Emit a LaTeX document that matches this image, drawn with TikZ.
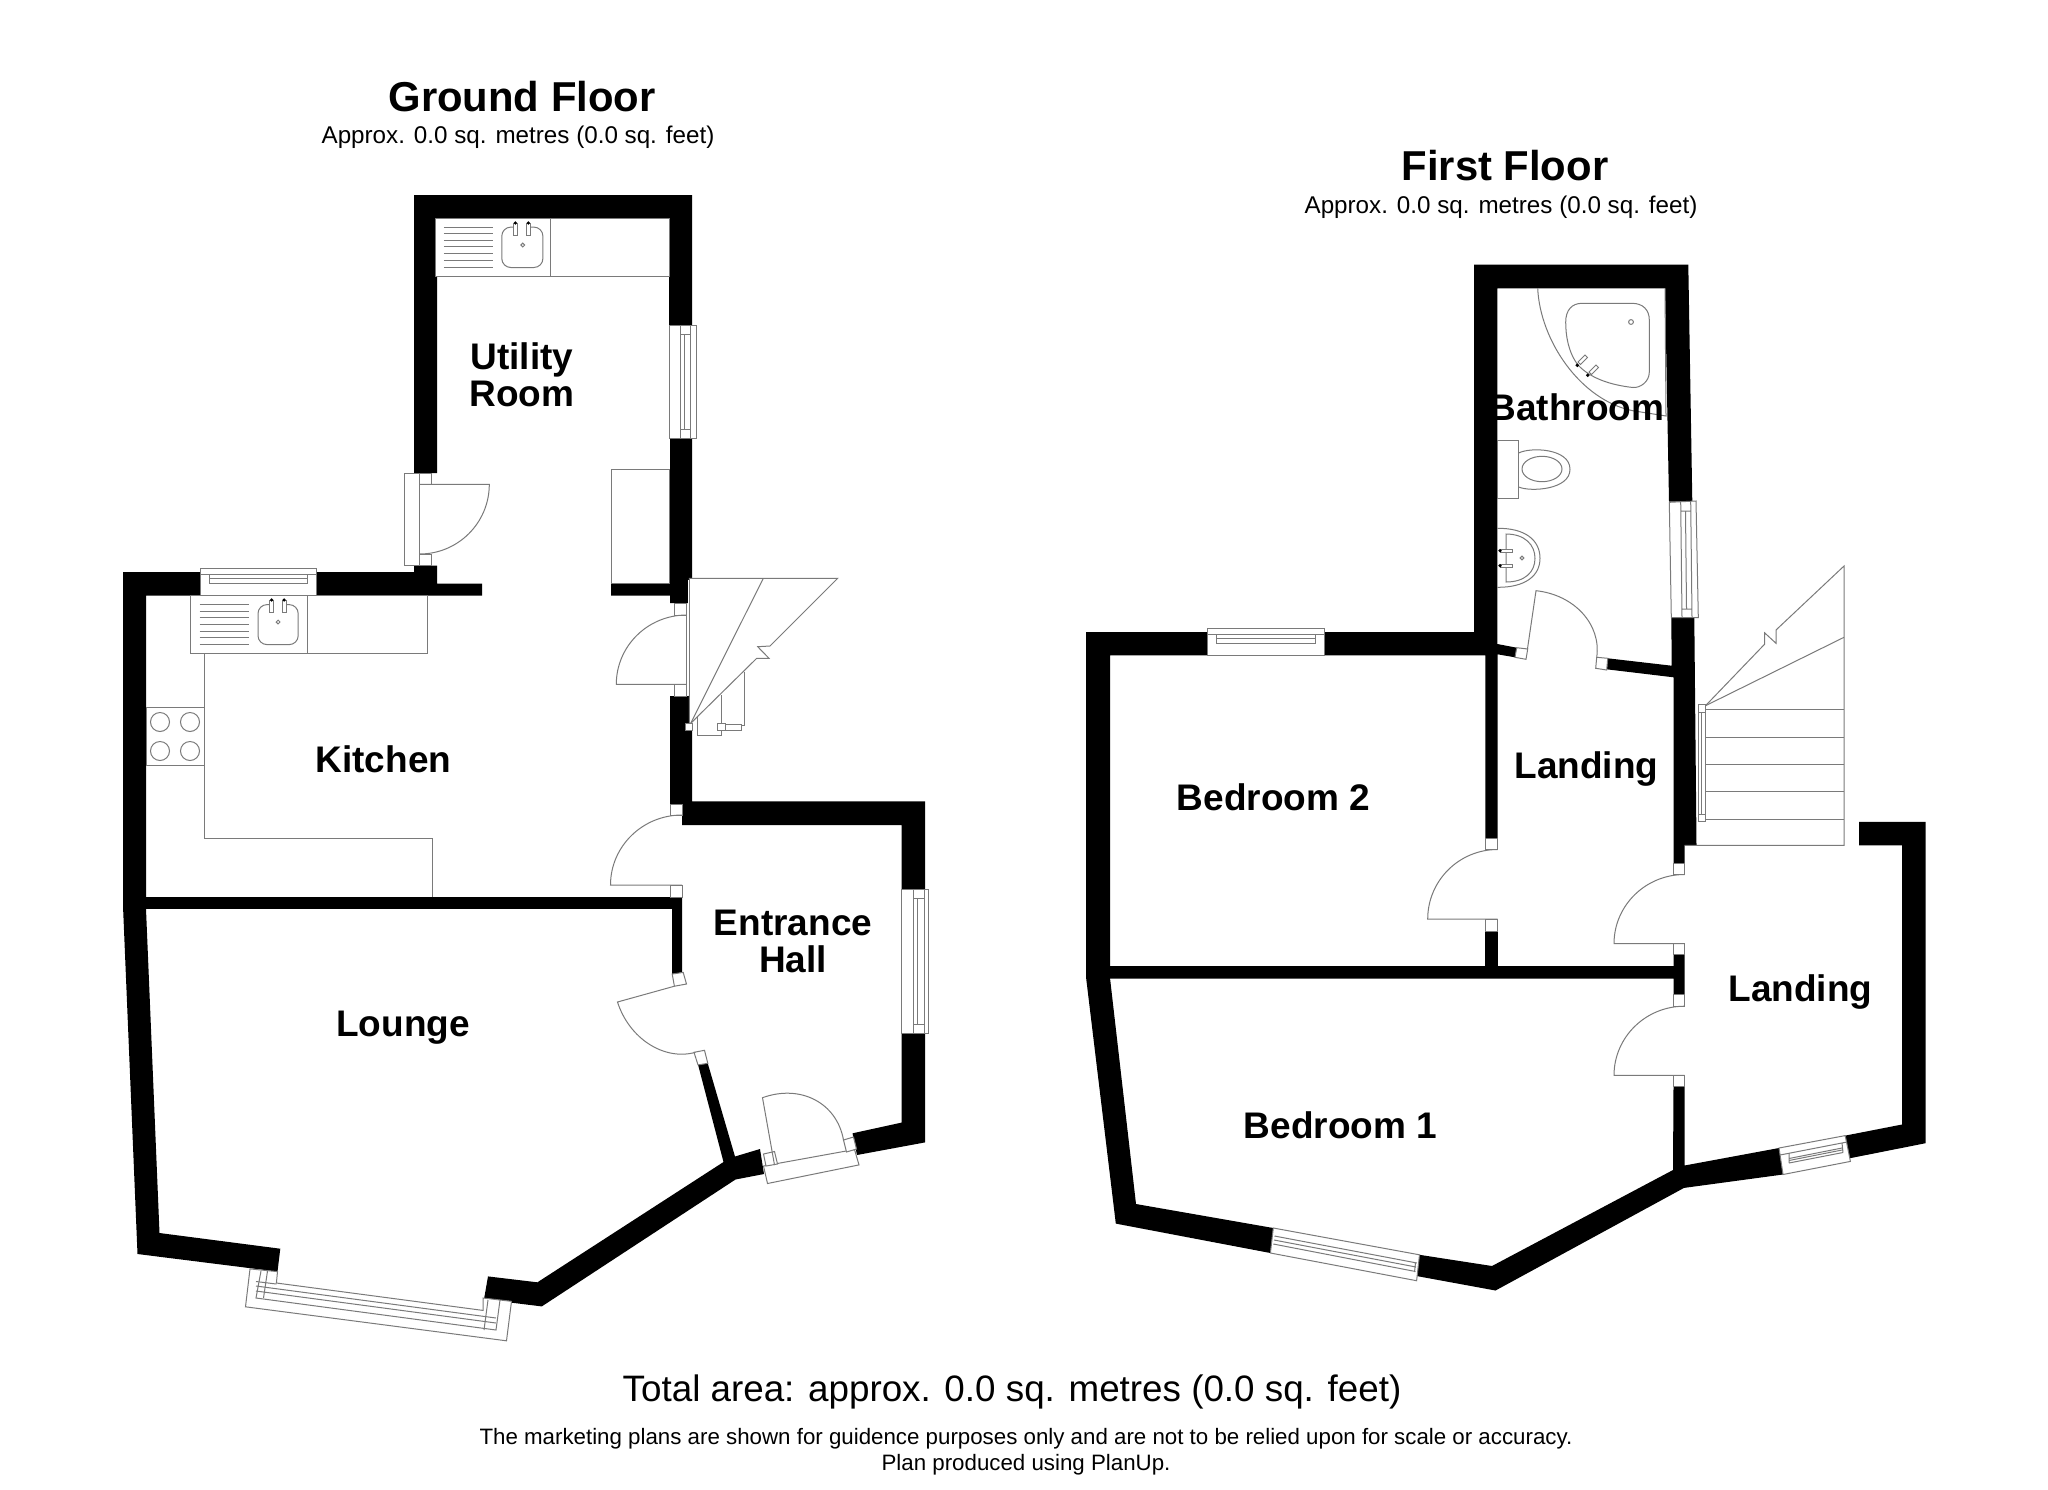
\documentclass[tikz,border=0pt]{standalone}
\usepackage{fontspec}
\setmainfont{Liberation Sans}
\usetikzlibrary{calc}
\tikzset{
  wall/.style={fill=black,draw=none},
  fix/.style={draw=black!52,line width=1pt,fill=none,line join=miter},
  box/.style={draw=black!52,line width=1pt,fill=white},
  room/.style={font=\fontsize{37}{37.5}\selectfont\bfseries,align=center,inner sep=0pt},
  title/.style={font=\fontsize{41.8}{42}\selectfont\bfseries,inner sep=0pt},
  sub/.style={font=\fontsize{24.2}{25}\selectfont,inner sep=0pt},
  total/.style={font=\fontsize{36.8}{37}\selectfont,inner sep=0pt},
  note/.style={font=\fontsize{22.3}{23}\selectfont,inner sep=0pt},
}
\newcommand{\doorleaf}[3]{\draw[fix] (#1) -- (#2) .. controls ($(#2)+0.5523*(#3)-0.5523*(#1)$) and ($(#3)+0.5523*(#2)-0.5523*(#1)$) .. (#3);}
\begin{document}
\begin{tikzpicture}[x=1pt,y=-1pt]
\path[use as bounding box,fill=white] (0,0) rectangle (2048,1489);

%% ---------- Ground floor walls
\fill[wall] (414,195)--(692,195)--(692,326)--(669,326)--(669,218.2)--(437,218.2)--(437,473)--(414,473)--cycle;
\fill[wall] (670,438)--(692,438)--(692,603)--(670,603)--(670,595.7)--(611,595.7)--(611,583.6)--(670,583.6)--cycle;
\fill[wall] (123,572)--(200.4,572)--(200.4,595.7)--(146,595.7)--(146,908.8)--(159.5,1233)--(280.3,1248.7)--(277.5,1271.6)--(137.5,1254)--(123,906)--cycle;
\fill[wall] (316.5,572)--(414,572)--(414,565.7)--(437,565.7)--(437,583.6)--(482,583.6)--(482,595.7)--(316.5,595.7)--cycle;
\fill[wall] (670,696)--(692,696)--(692,801.3)--(925,801.3)--(925,889.4)--(901.5,889.4)--(901.5,825)--(682,825)--(682,804)--(670,804)--cycle;
\fill[wall] (146,897)--(682,897)--(682,972.4)--(672,974)--(672,908.8)--(146,908.8)--cycle;
\fill[wall] (901.5,1033.3)--(925,1033.3)--(925,1142.4)--(857,1155)--(852.5,1133.3)--(901.5,1122.6)--cycle;
\fill[wall] (698,1064.5)--(707.5,1062.5)--(735,1156.5)--(760,1149)--(764,1174)--(735.5,1179.5)--(541.8,1306.4)--(484,1299.3)--(488,1276.4)--(537.4,1282.3)--(723.5,1162)--cycle;

%% Ground floor windows
\draw[box] (669,325.7) rectangle (696,438);
\draw[fix] (680.4,325.7)--(680.4,438) (690.2,325.7)--(690.2,438) (680.4,334)--(690.2,334) (680.4,429)--(690.2,429) (684.4,334)--(684.4,429);
\draw[box] (200.4,568.2) rectangle (316.5,595.7);
\draw[fix] (200.4,574.3)--(316.5,574.3) (209.4,574.3)--(209.4,583.6) (307.6,574.3)--(307.6,583.6) (209.4,583.6)--(307.6,583.6) (209.4,578.5)--(307.6,578.5);
\draw[box] (901.5,889.4) rectangle (928.5,1033.3);
\draw[fix] (913,889.4)--(913,1033.3) (924,889.4)--(924,1033.3) (913,898)--(924,898) (913,1024)--(924,1024) (917.5,898)--(917.5,1024);
% bay window
\draw[box] (250,1268.9)--(245.5,1306.8)--(506.5,1340.8)--(511.5,1301.3)--(483,1298)--(483,1310.4)--(276.4,1283)--(277.5,1271.6)--cycle;
\draw[fix] (261,1271)--(256,1298)--(496,1330)--(500,1300);
\draw[fix] (256,1291)--(496,1323) (256,1286)--(496,1318) (256,1281.5)--(276.4,1284);
\draw[fix] (267.5,1271)--(263.5,1298) (488,1300)--(484,1330);

%% Ground floor doors
\draw[box] (404,473) rectangle (419.6,565.7);
\draw[box] (419.6,473) rectangle (431.3,484.3);
\draw[box] (419.6,554) rectangle (431.3,565.7);
\doorleaf{419.6,484.3}{489.3,484.3}{419.6,554}
\draw[box] (674.7,603.3) rectangle (686.7,615);
\draw[box] (674.7,684.3) rectangle (686.7,696);
\doorleaf{686.7,684.3}{616.3,684.3}{686.7,615}
\draw[fix] (686.7,615)--(686.7,684.3);
\draw[box] (670,804) rectangle (682,815);
\draw[box] (670,885) rectangle (682,897);
\doorleaf{682,885}{610.5,885}{682,815}
\draw[box] (672.2,974)--(683.2,972.4)--(686.5,984)--(674.4,986.2)--cycle;
\draw[box] (694,1052.3)--(704.5,1050.3)--(707.8,1063.3)--(698,1064.9)--cycle;
\doorleaf{674.4,986.2}{617.5,1002}{695.5,1052.3}
\draw[box] (763.5,1166)--(767.5,1183.5)--(859,1164.9)--(854.5,1149.5)--cycle;
\draw[box] (763.5,1154)--(774.5,1151.5)--(777.5,1164)--(766,1166)--cycle;
\draw[box] (843.5,1140)--(853.5,1137)--(856.5,1149)--(846.5,1152)--cycle;
\doorleaf{774.5,1165}{762.5,1097.7}{843.5,1140}

%% Ground floor units
\draw[box] (435.3,218.2) rectangle (669,276.4);
\draw[fix] (550.9,218.2)--(550.9,276.4);
\foreach \yy in {227.1,233.9,240.4,246.8,253.2,260,267.1} \draw[fix] (443.8,\yy)--(493.3,\yy);
\draw[fix,rounded corners=9pt] (501.8,227.1) rectangle (542.9,267.5);
\fill[white] (513,224) rectangle (531,228);
\draw[box] (513.4,223) rectangle (517.4,235.7);
\draw[box] (526.3,223) rectangle (530.4,235.7);
\fill (515.4,223) circle (1.8);
\fill (528.3,223) circle (1.8);
\draw[fix] (522.8,245) circle (1.9);
\draw[fix] (611,469.3) rectangle (669,583.6);

\draw[box] (190.6,595.7) rectangle (427.2,653.6);
\draw[fix] (307.1,595.7)--(307.1,653.6);
\foreach \yy in {604.3,611,617.5,624.6,631,637.5,644.6} \draw[fix] (199.6,\yy)--(249.1,\yy);
\draw[fix,rounded corners=9pt] (258,604.6) rectangle (298.2,644.6);
\fill[white] (269,602) rectangle (287,606);
\draw[box] (269.6,600) rectangle (273.7,612.9);
\draw[box] (282.1,600) rectangle (286.2,612.9);
\fill (271.6,600) circle (1.8);
\fill (284.1,600) circle (1.8);
\draw[fix] (278.1,622) circle (1.9);
\draw[fix] (146,707) rectangle (204.7,765.7);
\draw[fix] (204.7,653.6)--(204.7,838.8)--(432,838.8)--(432,897);
\draw[fix] (160,722) circle (9.5);
\draw[fix] (190,722) circle (9.5);
\draw[fix] (160,751) circle (9.5);
\draw[fix] (190,751) circle (9.5);

%% Ground floor stair
\draw[box] (689.3,603.3)--(689.3,578.3)--(837.7,578.3)--(770,646)--(757.7,646.7)--(769,658.3)--(756.7,658.3)--(690.7,723.3)--(689.3,723.3)--cycle;
\fill[white] (687.5,580) rectangle (691,695);
\draw[fix] (689.3,578.3)--(689.3,696);
\draw[fix] (763.3,578.3)--(690.7,723.3);
\draw[fix] (744.7,671.7)--(744.7,725.7)--(741.7,725.7);
\draw[fix] (721.3,695)--(721.3,735)--(697.7,735)--(697.7,716);
\draw[box] (725.3,724.5) rectangle (741.7,730);
\draw[box] (717.3,723) rectangle (725.3,730.7);
\draw[box] (685.3,723.3) rectangle (692.7,730.7);

%% ---------- First floor walls
\fill[wall] (1474,264.7)--(1688.3,264.7)--(1692.3,501.7)--(1669,501.7)--(1665,288.3)--(1497.3,288.3)--(1497.3,644)--(1516.7,647.7)--(1515,657.3)--(1497.5,654.3)--(1497.5,838)--(1485.4,838)--(1485.4,655.3)--(1325.2,655.3)--(1325.2,632)--(1474,632)--cycle;
\fill[wall] (1086,632)--(1208,632)--(1208,655.3)--(1110,655.3)--(1110,978)--(1136,1204)--(1273.3,1228)--(1270.4,1253)--(1115.8,1223.6)--(1086,977)--cycle;
\fill[wall] (1110,966)--(1673.5,966)--(1673.5,954.8)--(1684.5,954.8)--(1684.5,994)--(1673.5,994)--(1673.5,978.5)--(1110,978.5)--cycle;
\fill[wall] (1485.4,931.2)--(1497.5,931.2)--(1497.5,970)--(1485.4,970)--cycle;
\fill[wall] (1671.3,617.7)--(1694.3,617.7)--(1696.5,845.4)--(1684.5,845.4)--(1684.5,863.3)--(1673.5,863.3)--(1673.5,677.3)--(1606.7,669.3)--(1607.7,658.3)--(1671.7,665.7)--cycle;
\fill[wall] (1673.5,1086.5)--(1684.5,1086.5)--(1684.5,1165.5)--(1779,1148)--(1783,1174.5)--(1684,1187.9)--(1495.5,1290.5)--(1416.5,1276)--(1419.5,1254.8)--(1492,1266)--(1673,1170)--cycle;
\fill[wall] (1845.2,1135.6)--(1902,1124.5)--(1902,845.4)--(1859,845.4)--(1859,821.8)--(1925.6,821.8)--(1925.6,1143.2)--(1849,1158.4)--cycle;

%% First floor windows
\draw[box] (1669.3,502.3)--(1671.3,617.7)--(1698.3,617.7)--(1696,501)--cycle;
\draw[fix] (1680.7,502)--(1682,617.7) (1690.7,502)--(1692,617.7) (1680.7,511)--(1691,511) (1682,609)--(1692,609) (1685.5,511)--(1686.5,609);
\draw[box] (1207,628) rectangle (1324.2,655.3);
\draw[fix] (1207,634.3)--(1324.2,634.3) (1216.3,634.3)--(1216.3,643.2)--(1315.6,643.2)--(1315.6,634.3) (1216.3,638.5)--(1315.6,638.5);
\draw[box] (1273.3,1228)--(1419.5,1254.8)--(1416.6,1280.7)--(1270.4,1253)--cycle;
\draw[fix] (1274.5,1236)--(1417,1263) (1273.3,1244)--(1415.5,1271.5) (1274,1240)--(1416,1267) (1415.5,1263)--(1414.5,1272);
\draw[box] (1779,1148)--(1845.2,1135.6)--(1850.4,1161.4)--(1783,1174.5)--cycle;
\draw[fix] (1780,1155)--(1847,1142) (1789,1163)--(1843,1152.5) (1789,1158.5)--(1842,1148) (1789,1153.5)--(1789,1163) (1842,1143)--(1843,1152.5) (1789,1160.5)--(1842,1150);

%% First floor doors
\draw[box] (1516.7,647.7)--(1527.7,649)--(1526,659.3)--(1515,657.3)--cycle;
\doorleaf{1527.3,650}{1536,590.7}{1596.7,657.3}
\draw[box] (1596.7,657.3)--(1607.7,658.3)--(1606.7,670)--(1595.7,668.3)--cycle;
\draw[box] (1485.4,838) rectangle (1497.5,849.5);
\draw[box] (1485.4,919.1) rectangle (1497.5,931.2);
\doorleaf{1497.5,919.1}{1427.7,919.1}{1497.5,849.5}
\draw[box] (1673.5,863.3) rectangle (1684.5,874.5);
\draw[box] (1673.5,943.7) rectangle (1684.5,954.8);
\doorleaf{1684.5,943.7}{1614,943.7}{1684.5,874.5}
\draw[box] (1673.5,994) rectangle (1684.5,1006.2);
\draw[box] (1673.5,1075.4) rectangle (1684.5,1086.5);
\doorleaf{1684.5,1075.4}{1614,1075.4}{1684.5,1006.2}

%% First floor stair
\draw[fix] (1684.5,845.4)--(1844,845.4)--(1844,566)--(1776,630)--(1776,643.3)--(1764.5,632.7)--(1764.5,644.3)--(1705.5,705.7);
\draw[fix] (1844,637.3)--(1705.5,705.7);
\foreach \yy in {709.8,737.4,764.7,791.9,819.2} \draw[fix] (1701,\yy)--(1844,\yy);
\draw[box] (1698,706) rectangle (1705.5,821.8);
\draw[box] (1698,704.8) rectangle (1705.5,712);
\draw[box] (1698,814.8) rectangle (1705.5,821.8);
\draw[fix] (1701.5,712)--(1701.5,814.8);

%% Bathroom fittings
\draw[fix] (1537.7,288.3) .. controls (1540,340) and (1580,400) .. (1632.7,410.7)--(1666,416)--(1665,288.3);
\draw[fix] (1565.7,322) .. controls (1565.7,310) and (1572,303.3) .. (1582,303.3)--(1632,303.3) .. controls (1643,303.3) and (1649.3,310) .. (1649.3,320)--(1649.3,372) .. controls (1649.3,382) and (1640,388) .. (1633,387.5) .. controls (1610,385) and (1590,378) .. (1578,365) .. controls (1568,352) and (1565.7,335) .. (1565.7,322)--cycle;
\draw[fix] (1631,322) circle (2.4);
\draw[box] (1578,362)--(1585,355)--(1587.5,357.5)--(1580.5,364.5)--cycle;
\draw[box] (1589,372)--(1596,365)--(1598.5,367.5)--(1591.5,374.5)--cycle;
\fill (1577.3,365.3) circle (1.9);
\fill (1587.7,375.3) circle (1.9);
\draw[box] (1497.3,440.3) rectangle (1518.7,498.7);
\draw[fix] (1518.7,453) .. controls (1530,447) and (1570,448) .. (1570,469.3) .. controls (1570,490) and (1530,492) .. (1518.7,487);
\draw[fix] (1542,469) ellipse (20 and 12.7);
\draw[fix] (1497.3,528.3) .. controls (1525,528) and (1540,540) .. (1540,558.3) .. controls (1540,576) and (1525,587.5) .. (1497.3,587.3);
\draw[fix] (1506,534) .. controls (1525,534) and (1535,545) .. (1535,558.3) .. controls (1535,572) and (1525,582) .. (1506,582)--cycle;
\draw[box] (1500,549) rectangle (1512.7,552.3);
\draw[box] (1500,564) rectangle (1512.7,567.3);
\fill (1500,550.7) circle (1.8);
\fill (1500,565.7) circle (1.8);
\draw[fix] (1522,558) circle (1.9);

%% Texts
\node[title] (gf) at (522,97) {Ground Floor};
\node[sub] (gfa) at (518,137.5) {Approx. 0.0 sq. metres (0.0 sq. feet)};
\node[title] (ff) at (1505,166) {First Floor};
\node[sub] (ffa) at (1501,207) {Approx. 0.0 sq. metres (0.0 sq. feet)};
\node[room] (util) at (522,375) {Utility\\Room};
\node[room] (kit) at (383.5,759) {Kitchen};
\node[room] (lou) at (403,1027.5) {Lounge};
\node[room] (hall) at (793,941.5) {Entrance\\Hall};
\node[room] (bd2) at (1273.5,797) {Bedroom 2};
\node[room] (ld1) at (1586.5,769.5) {Landing};
\node[room] (ld2) at (1800.5,992) {Landing};
\node[room] (bd1) at (1340.5,1125.5) {Bedroom 1};
\node[room] (bath) at (1577,407.5) {Bathroom};
\node[total] (tot) at (1012,1392) {Total area: approx. 0.0 sq. metres (0.0 sq. feet)};
\node[note] (n1) at (1026,1439) {The marketing plans are shown for guidence purposes only and are not to be relied upon for scale or accuracy.};
\node[note] (n2) at (1026,1465) {Plan produced using PlanUp.};
\end{tikzpicture}
\end{document}
